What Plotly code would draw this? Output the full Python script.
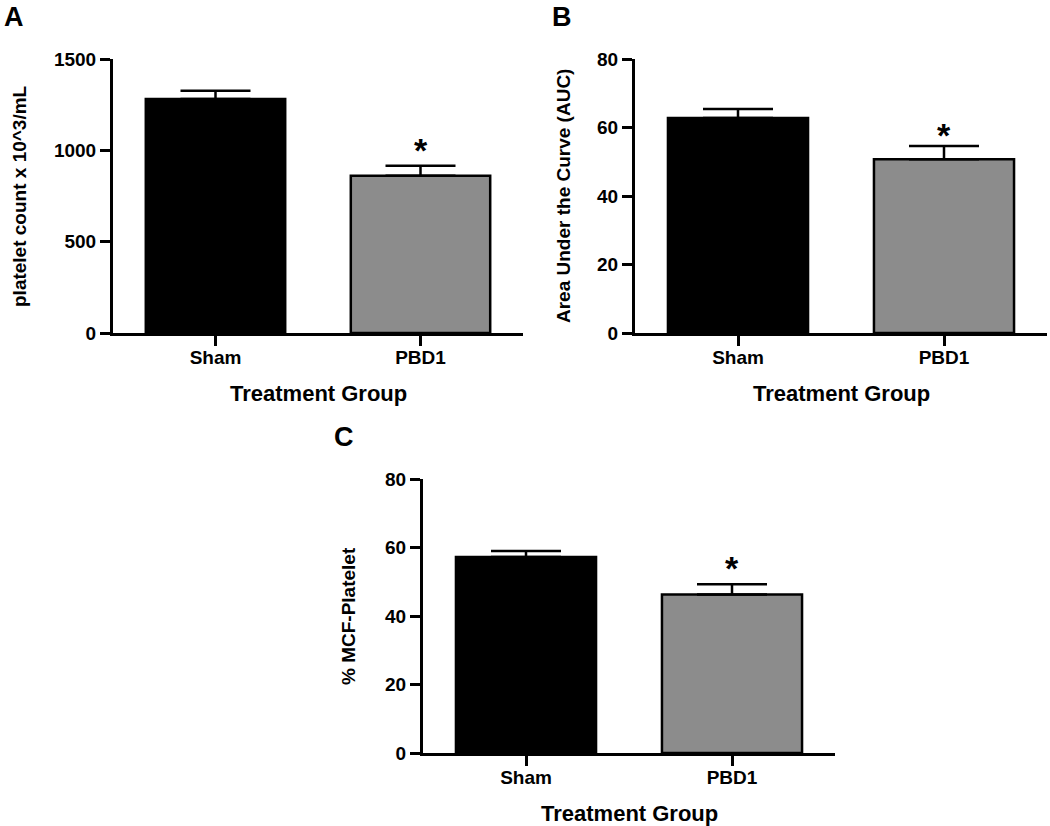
import plotly.graph_objects as go

# ---- data ----
categories = ["Sham", "PBD1"]
platelet_count = [1281, 861]
platelet_sem = [45, 55]
auc_values = [62.8, 50.7]
auc_sem = [2.6, 3.9]
mcf_values = [57.2, 46.3]
mcf_sem = [1.8, 3.0]
bar_colors = ["#000000", "#8c8c8c"]
significant = [False, True]

W, H = 1050, 826
FONT = "Liberation Sans, Arial, sans-serif"

def px_x(v):
    return v / W

def px_y(v):
    return 1 - v / H

# panel geometry in pixels: (x0, x1, ytop, ybottom)
panels = {
    "A": dict(x=(113, 523), y=(59, 333), vals=platelet_count, sem=platelet_sem,
              yrange=[0, 1500], dtick=500, ytitle="platelet count x 10^3/mL",
              ytitle_x=19, letter=(14, 0), star_shift=-5),
    "B": dict(x=(635, 1047), y=(59, 333), vals=auc_values, sem=auc_sem,
              yrange=[0, 80], dtick=20, ytitle="Area Under the Curve (AUC)",
              ytitle_x=563, letter=(562, 0), star_shift=-10),
    "C": dict(x=(423, 835), y=(479, 753), vals=mcf_values, sem=mcf_sem,
              yrange=[0, 80], dtick=20, ytitle="% MCF-Platelet",
              ytitle_x=348, letter=(344, 420), star_shift=-5),
}

fig = go.Figure()
annotations = []
axis_common = dict(showline=True, linewidth=3, linecolor="black", ticks="outside",
                   ticklen=10, tickwidth=3, tickcolor="black", showgrid=False,
                   zeroline=False,
                   tickfont=dict(family=FONT, size=19, color="black", weight="bold"))

for i, (name, p) in enumerate(panels.items()):
    suffix = "" if i == 0 else str(i + 1)
    fig.add_trace(go.Bar(
        x=categories, y=p["vals"], width=0.68,
        marker=dict(color=bar_colors, line=dict(color="black", width=2.5)),
        error_y=dict(type="data", symmetric=False, array=p["sem"],
                     arrayminus=[0] * len(p["sem"]), color="black",
                     thickness=2.5, width=35),
        xaxis="x" + suffix, yaxis="y" + suffix, showlegend=False,
    ))
    x0, x1 = p["x"]
    yt, yb = p["y"]
    fig.layout["xaxis" + suffix] = dict(
        domain=[px_x(x0), px_x(x1)], anchor="y" + suffix, range=[-0.5, 1.5],
        type="category", ticklabelstandoff=-5, **axis_common)
    fig.layout["yaxis" + suffix] = dict(
        domain=[px_y(yb), px_y(yt)], anchor="x" + suffix, range=p["yrange"],
        dtick=p["dtick"], **axis_common)
    # y axis title
    annotations.append(dict(
        text=p["ytitle"], xref="paper", yref="paper", x=px_x(p["ytitle_x"]),
        y=px_y((yt + yb) / 2), textangle=-90, showarrow=False,
        xanchor="center", yanchor="middle",
        font=dict(family=FONT, size=19, color="black", weight="bold")))
    # x axis title
    annotations.append(dict(
        text="Treatment Group", xref="paper", yref="paper", x=px_x((x0 + x1) / 2),
        y=px_y(yb + 60), showarrow=False, xanchor="center", yanchor="middle",
        font=dict(family=FONT, size=22, color="black", weight="bold")))
    # panel letter
    annotations.append(dict(
        text=name, xref="paper", yref="paper", x=px_x(p["letter"][0]),
        y=px_y(p["letter"][1]), showarrow=False, xanchor="center", yanchor="top",
        font=dict(family=FONT, size=27, color="black", weight="bold")))
    # significance star
    for c, v, s, sig in zip(categories, p["vals"], p["sem"], significant):
        if sig:
            annotations.append(dict(
                text="*", x=c, y=v + s, xref="x" + suffix, yref="y" + suffix,
                showarrow=False, xanchor="center", yanchor="bottom",
                yshift=p["star_shift"],
                font=dict(family=FONT, size=34, color="black", weight="bold")))

fig.update_layout(
    width=W, height=H, margin=dict(l=0, r=0, t=0, b=0, autoexpand=False),
    plot_bgcolor="white", paper_bgcolor="white", bargap=0.32,
    annotations=annotations,
)

fig.write_html("out.html", config={"displayModeBar": False},
               post_script="document.body.style.margin='0';document.body.style.overflow='hidden';")
